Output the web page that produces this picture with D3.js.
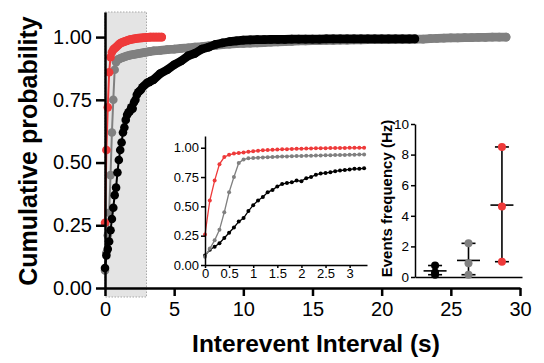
<!DOCTYPE html>
<html>
<head>
<meta charset="utf-8">
<script src="https://cdn.jsdelivr.net/npm/d3@7"></script>
<style>
  body { margin: 0; background: #fff; }
  svg { display: block; font-family: "Liberation Sans", Arial, Helvetica, sans-serif; }
</style>
</head>
<body>
<div id="chart"></div>
<script>
// cumulative probability, 0.1 s bins
const binX = [0, 0.1, 0.2, 0.3, 0.4, 0.5, 0.6, 0.7, 0.8, 0.9, 1.0, 1.1, 1.2, 1.3, 1.4, 1.5, 1.6,
  1.7, 1.8, 1.9, 2.0, 2.1, 2.2, 2.3, 2.4, 2.5, 2.6, 2.7, 2.8, 2.9, 3.0, 3.1, 3.2, 3.3];
const redY = [0.26, 0.55, 0.72, 0.86, 0.92, 0.94, 0.95, 0.955, 0.96, 0.965, 0.97, 0.975, 0.978,
  0.98, 0.982, 0.984, 0.986, 0.988, 0.99, 0.991, 0.992, 0.993, 0.994, 0.995, 0.996, 0.996,
  0.997, 0.997, 0.998, 0.998, 0.999, 0.999, 1.0, 1.0];
const grayY = [0.07, 0.14, 0.21, 0.30, 0.45, 0.62, 0.75, 0.87, 0.90, 0.91, 0.912, 0.915, 0.917,
  0.919, 0.921, 0.923, 0.925, 0.926, 0.928, 0.929, 0.93, 0.931, 0.932, 0.933, 0.934, 0.935,
  0.936, 0.937, 0.938, 0.939, 0.94, 0.941, 0.942, 0.943];
const blackY = [0.08, 0.13, 0.155, 0.185, 0.23, 0.275, 0.32, 0.37, 0.40, 0.46, 0.51, 0.55, 0.58,
  0.62, 0.64, 0.67, 0.69, 0.70, 0.705, 0.72, 0.715, 0.74, 0.75, 0.77, 0.78, 0.785, 0.79, 0.80,
  0.805, 0.81, 0.815, 0.82, 0.82, 0.825];

// longer intervals (main plot only)
const redTailX = [3.5, 3.7, 3.9, 4.1];
const redTailY = [1.0, 1.0, 1.0, 1.0];
const grayTailX = [3.5, 4, 4.5, 5, 5.5, 6, 6.5, 7, 7.5, 8, 8.5, 9, 9.5, 10, 10.5, 11, 11.5, 12,
  12.5, 13, 13.5, 14, 14.5, 15, 15.5, 16, 16.5, 17, 17.5, 18, 18.5, 19, 19.5, 20, 20.5, 21, 21.5,
  22, 22.5, 23, 23.5, 24, 24.5, 25, 25.5, 26, 26.5, 27, 27.5, 28, 28.5, 29];
const grayTailY = [0.945, 0.947, 0.95, 0.952, 0.955, 0.957, 0.96, 0.962, 0.965, 0.967, 0.97,
  0.972, 0.974, 0.975, 0.976, 0.977, 0.978, 0.98, 0.981, 0.982, 0.983, 0.985, 0.985, 0.986,
  0.986, 0.987, 0.987, 0.988, 0.988, 0.989, 0.989, 0.99, 0.99, 0.99, 0.99, 0.991, 0.991, 0.991,
  0.992, 0.992, 0.994, 0.995, 0.996, 0.997, 0.997, 0.998, 0.998, 0.999, 0.999, 1.0, 1.0, 1.0];
const blackTailX = [3.5, 4, 4.5, 5, 5.5, 6, 6.5, 7, 7.5, 8, 8.5, 9, 9.5, 10, 10.5, 11, 11.5, 12,
  12.5, 13, 13.5, 14, 14.5, 15, 15.5, 16, 16.5, 17, 17.5, 18, 18.5, 19, 19.5, 20, 20.5, 21, 21.5,
  22, 22.4];
const blackTailY = [0.83, 0.855, 0.87, 0.89, 0.905, 0.925, 0.935, 0.952, 0.96, 0.971, 0.977,
  0.982, 0.985, 0.988, 0.989, 0.99, 0.99, 0.991, 0.991, 0.991, 0.992, 0.992, 0.992, 0.992,
  0.992, 0.993, 0.993, 0.993, 0.993, 0.993, 0.993, 0.993, 0.993, 0.993, 0.993, 0.993, 0.993,
  0.993, 0.993];

// events frequency per group
const groups = ["A", "B", "C"];
const groupValues = [[0.75, 0.3, 0.15], [2.2, 0.9, 0.15], [8.5, 4.6, 1.0]];

const mainXTicks = [0, 5, 10, 15, 20, 25, 30];
const probTicks = [0, 0.25, 0.5, 0.75, 1.0];
const insetXTicks = [0, 0.5, 1, 1.5, 2, 2.5, 3];
const freqTicks = [0, 2, 4, 6, 8, 10];

const RED = "#ee3a3a", GRAY = "#808080", BLACK = "#000";
const width = 544, height = 363;

const svg = d3.select("#chart").append("svg")
  .attr("width", width).attr("height", height);

function pairs(xs, ys) { return xs.map((x, i) => [x, ys[i]]); }

// ---------- main plot ----------
const x = d3.scaleLinear().domain([0, 30]).range([105, 520]);
const y = d3.scaleLinear().domain([0, 1.1]).range([288, 12]);

svg.append("rect")
  .attr("x", x(0)).attr("y", y(1.1))
  .attr("width", x(3) - x(0)).attr("height", y(0) - y(1.1) + 9)
  .attr("fill", "#e4e4e4")
  .attr("stroke", "#a8a8a8").attr("stroke-width", 1).attr("stroke-dasharray", "1.5,1.5");

const mainSeries = [
  { color: GRAY, head: pairs(binX, grayY), tail: pairs(grayTailX, grayTailY) },
  { color: BLACK, head: pairs(binX, blackY), tail: pairs(blackTailX, blackTailY) },
  { color: RED, head: pairs(binX, redY), tail: pairs(redTailX, redTailY) }
];

const mainLine = d3.line().x(d => x(d[0])).y(d => y(d[1]));
mainSeries.forEach(s => {
  const pts = s.head.concat(s.tail);
  const g = svg.append("g");
  g.append("path").attr("d", mainLine(pts))
    .attr("fill", "none").attr("stroke", s.color).attr("stroke-width", 2);
  // dense markers merge into a band along the long flat part
  g.append("path").attr("d", mainLine([s.head[s.head.length - 1]].concat(s.tail)))
    .attr("fill", "none").attr("stroke", s.color).attr("stroke-width", 8.6)
    .attr("stroke-linecap", "round").attr("stroke-linejoin", "round");
  g.selectAll("circle").data(pts).join("circle")
    .attr("cx", d => x(d[0])).attr("cy", d => y(d[1])).attr("r", 4.3)
    .attr("fill", s.color);
});

const yAxis = svg.append("g").attr("transform", `translate(${x(0)},0)`)
  .call(d3.axisLeft(y).tickValues(probTicks).tickFormat(d3.format(".2f"))
    .tickSize(9).tickSizeOuter(0).tickPadding(4));
const xAxis = svg.append("g").attr("transform", `translate(0,${y(0)})`)
  .call(d3.axisBottom(x).tickValues(mainXTicks).tickSize(8).tickSizeOuter(0).tickPadding(6));
[yAxis, xAxis].forEach(a => {
  a.selectAll("path, line").attr("stroke", "#000").attr("stroke-width", 2.5);
  a.selectAll("text").attr("font-size", 20).attr("fill", "#000")
    .attr("font-family", "Liberation Sans, Arial, sans-serif");
});

svg.append("text")
  .attr("transform", "translate(37,151) rotate(-90)")
  .attr("text-anchor", "middle").attr("font-size", 25).attr("font-weight", "bold")
  .text("Cumulative probability");
svg.append("text")
  .attr("x", 316).attr("y", 352)
  .attr("text-anchor", "middle").attr("font-size", 24.5).attr("font-weight", "bold")
  .text("Interevent Interval (s)");

// ---------- inset: first 3 s ----------
const ix = d3.scaleLinear().domain([0, 3.36]).range([205, 367]);
const iy = d3.scaleLinear().domain([0, 1.1]).range([265, 136]);
const insetLine = d3.line().x(d => ix(d[0])).y(d => iy(d[1]));

[[BLACK, blackY], [GRAY, grayY], [RED, redY]].forEach(([color, ys]) => {
  const pts = pairs(binX, ys);
  const g = svg.append("g");
  g.append("path").attr("d", insetLine(pts))
    .attr("fill", "none").attr("stroke", color).attr("stroke-width", 1.3);
  g.selectAll("circle").data(pts).join("circle")
    .attr("cx", d => ix(d[0])).attr("cy", d => iy(d[1])).attr("r", 2)
    .attr("fill", color);
});

const iyAxis = svg.append("g").attr("transform", `translate(${ix(0)},0)`)
  .call(d3.axisLeft(iy).tickValues(probTicks).tickFormat(d3.format(".2f"))
    .tickSize(4).tickSizeOuter(0).tickPadding(2));
const ixAxis = svg.append("g").attr("transform", `translate(0,${iy(0)})`)
  .call(d3.axisBottom(ix).tickValues(insetXTicks).tickFormat(d3.format("~g"))
    .tickSize(3).tickSizeOuter(0).tickPadding(1));
[iyAxis, ixAxis].forEach(a => {
  a.selectAll("path, line").attr("stroke", "#000").attr("stroke-width", 1.5);
  a.selectAll("text").attr("font-size", 13).attr("fill", "#000")
    .attr("font-family", "Liberation Sans, Arial, sans-serif");
});

// ---------- inset: events frequency ----------
const gx = d3.scalePoint().domain(groups).range([415, 522]).padding(0.6);
const gy = d3.scaleLinear().domain([0, 10]).range([277, 124]);
const groupColors = [BLACK, GRAY, RED];

const gyAxis = svg.append("g").attr("transform", "translate(415,0)")
  .call(d3.axisLeft(gy).tickValues(freqTicks).tickSize(4).tickSizeOuter(0).tickPadding(2));
const gxAxis = svg.append("g").attr("transform", `translate(0,${gy(0)})`)
  .call(d3.axisBottom(gx).tickSize(0).tickSizeOuter(0).tickFormat(""));
[gyAxis, gxAxis].forEach(a => {
  a.selectAll("path, line").attr("stroke", "#000").attr("stroke-width", 1.5);
  a.selectAll("text").attr("font-size", 13.5).attr("fill", "#000")
    .attr("font-family", "Liberation Sans, Arial, sans-serif");
});

groups.forEach((gname, i) => {
  const vals = groupValues[i];
  const cx = gx(gname);
  const g = svg.append("g");
  const lo = d3.min(vals), hi = d3.max(vals), mean = d3.mean(vals);
  g.append("line").attr("x1", cx).attr("x2", cx).attr("y1", gy(lo)).attr("y2", gy(hi))
    .attr("stroke", "#000").attr("stroke-width", 1.6);
  [lo, hi].forEach(v => g.append("line")
    .attr("x1", cx - 7).attr("x2", cx + 7).attr("y1", gy(v)).attr("y2", gy(v))
    .attr("stroke", "#000").attr("stroke-width", 1.6));
  g.append("line").attr("x1", cx - 11.5).attr("x2", cx + 11.5)
    .attr("y1", gy(mean)).attr("y2", gy(mean))
    .attr("stroke", "#000").attr("stroke-width", 1.6);
  g.selectAll("circle").data(vals).join("circle")
    .attr("cx", cx).attr("cy", d => gy(d)).attr("r", 4)
    .attr("fill", groupColors[i]);
});

svg.append("text")
  .attr("transform", `translate(392,${(gy(0) + gy(10)) / 2 - 2}) rotate(-90)`)
  .attr("text-anchor", "middle").attr("font-size", 15).attr("font-weight", "bold")
  .text("Events frequency (Hz)");
</script>
</body>
</html>
